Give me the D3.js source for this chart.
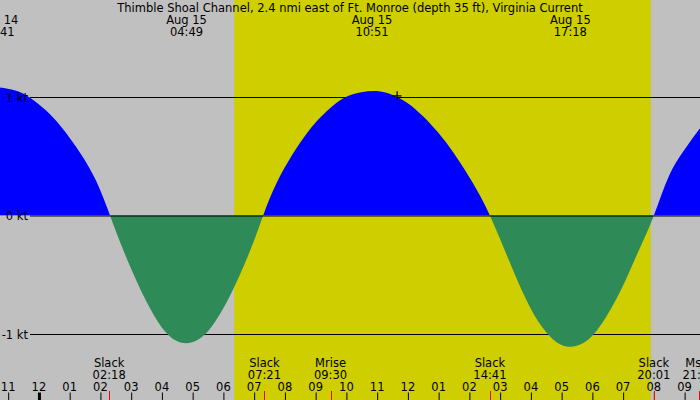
<!DOCTYPE html>
<html><head><meta charset="utf-8">
<script src="https://cdn.jsdelivr.net/npm/d3@7"></script>
<style>html,body{margin:0;padding:0;background:#c0c0c0;}svg{display:block;}</style>
</head><body>
<svg id="c" width="700" height="400"></svg>
<script>
const title = "Thimble Shoal Channel, 2.4 nmi east of Ft. Monroe (depth 35 ft), Virginia Current";
const domainTimes = ["2024-08-14 22:45", "2024-08-15 21:31"];
const sunTimes = ["2024-08-15 06:22", "2024-08-15 19:55"];

const curveTimes = [
  "2024-08-14 22:00","2024-08-14 22:30","2024-08-14 23:00","2024-08-14 23:30",
  "2024-08-15 00:00","2024-08-15 00:30","2024-08-15 01:00","2024-08-15 01:30",
  "2024-08-15 02:00","2024-08-15 02:30","2024-08-15 03:00","2024-08-15 03:30",
  "2024-08-15 04:00","2024-08-15 04:30","2024-08-15 05:00","2024-08-15 05:30",
  "2024-08-15 06:00","2024-08-15 06:30","2024-08-15 07:00","2024-08-15 07:30",
  "2024-08-15 08:00","2024-08-15 08:30","2024-08-15 09:00","2024-08-15 09:30",
  "2024-08-15 10:00","2024-08-15 10:30","2024-08-15 11:00","2024-08-15 11:30",
  "2024-08-15 12:00","2024-08-15 12:30","2024-08-15 13:00","2024-08-15 13:30",
  "2024-08-15 14:00","2024-08-15 14:30","2024-08-15 15:00","2024-08-15 15:30",
  "2024-08-15 16:00","2024-08-15 16:30","2024-08-15 17:00","2024-08-15 17:30",
  "2024-08-15 18:00","2024-08-15 18:30","2024-08-15 19:00","2024-08-15 19:30",
  "2024-08-15 20:00","2024-08-15 20:30","2024-08-15 21:00","2024-08-15 21:30",
  "2024-08-15 22:00"];
const curveKnots = [
  1.04, 1.08, 1.07, 1.03,
  0.94, 0.82, 0.66, 0.47,
  0.22, -0.12, -0.44, -0.72,
  -0.94, -1.06, -1.07, -0.98,
  -0.79, -0.53, -0.22, 0.13,
  0.40, 0.61, 0.78, 0.91,
  1.00, 1.04, 1.05, 1.02,
  0.95, 0.84, 0.70, 0.53,
  0.33, 0.10, -0.19, -0.50,
  -0.78, -0.98, -1.09, -1.10,
  -1.02, -0.84, -0.60, -0.31,
  -0.01, 0.33, 0.55, 0.73,
  0.87];

const maxTimes = ["2024-08-14 22:41","2024-08-15 04:49","2024-08-15 10:51","2024-08-15 17:18"];
const maxDateLabels = ["Aug 14","Aug 15","Aug 15","Aug 15"];
const maxTimeLabels = ["22:41","04:49","10:51","17:18"];

const eventTimes = ["2024-08-15 02:18","2024-08-15 07:21","2024-08-15 09:30","2024-08-15 14:41","2024-08-15 20:01","2024-08-15 21:29"];
const eventNames = ["Slack","Slack","Mrise","Slack","Slack","Mset"];
const eventTimeLabels = ["02:18","07:21","09:30","14:41","20:01","21:29"];

const levelValues = [1, 0, -1];
const levelLabels = ["1 kt", "0 kt", "-1 kt"];

const markerTime = "2024-08-15 11:39";
const markerKnots = 1.01;

const parse = d3.timeParse("%Y-%m-%d %H:%M");
const W = 700, H = 400;
const FONT = "DejaVu Sans";
const FS = 11.5;
const svg = d3.select("#c");

const x = d3.scaleTime().domain(domainTimes.map(parse)).range([0, W]);
const y = d3.scaleLinear().domain([-1, 1]).range([334, 97]);

const data = curveTimes.map((t, i) => ({t: parse(t), v: curveKnots[i]}));

// background
svg.append("rect").attr("width", W).attr("height", H).attr("fill", "#c0c0c0");
const [sr, ss] = sunTimes.map(parse);
svg.append("rect").attr("x", x(sr)).attr("y", 0).attr("width", x(ss) - x(sr)).attr("height", H).attr("fill", "#cece00");

// level lines (under fill for +1/-1)
levelValues.forEach((v) => {
  if (v !== 0) svg.append("line").attr("x1", 30).attr("x2", W).attr("y1", y(v) + 0.5).attr("y2", y(v) + 0.5)
    .attr("stroke", "#000").attr("stroke-width", 1);
});

// clips
const defs = svg.append("defs");
defs.append("clipPath").attr("id", "pos").append("rect").attr("x", 0).attr("y", 0).attr("width", W).attr("height", y(0));
defs.append("clipPath").attr("id", "neg").append("rect").attr("x", 0).attr("y", y(0)).attr("width", W).attr("height", H - y(0));

const area = d3.area().x(d => x(d.t)).y0(y(0)).y1(d => y(d.v)).curve(d3.curveNatural);
svg.append("path").datum(data).attr("d", area).attr("fill", "#0000ff").attr("clip-path", "url(#pos)");
svg.append("path").datum(data).attr("d", area).attr("fill", "#2e8b57").attr("clip-path", "url(#neg)");

// zero line
svg.append("line").attr("x1", 30).attr("x2", W).attr("y1", y(0) + 0.5).attr("y2", y(0) + 0.5)
  .attr("stroke", "#000").attr("stroke-width", 1);

// level labels
levelValues.forEach((v, i) => {
  svg.append("text").attr("x", 28).attr("y", y(v) + 4.5).attr("text-anchor", "end")
    .attr("font-family", FONT).attr("font-size", FS).attr("fill", "#000").text(levelLabels[i]);
});

// marker
const mx = x(parse(markerTime)), my = y(markerKnots);
svg.append("path").attr("d", `M${mx - 4},${my}H${mx + 5}M${mx + 0.5},${my - 4.5}V${my + 4.5}`)
  .attr("stroke", "#000").attr("stroke-width", 1.2).attr("fill", "none");

// title
svg.append("text").attr("x", W / 2).attr("y", 12).attr("text-anchor", "middle")
  .attr("font-family", FONT).attr("font-size", FS).attr("fill", "#000").text(title);

// max labels
maxTimes.forEach((t, i) => {
  const px = x(parse(t));
  svg.append("text").attr("x", px).attr("y", 24).attr("text-anchor", "middle")
    .attr("font-family", FONT).attr("font-size", FS).attr("fill", "#000").text(maxDateLabels[i]);
  svg.append("text").attr("x", px).attr("y", 36).attr("text-anchor", "middle")
    .attr("font-family", FONT).attr("font-size", FS).attr("fill", "#000").text(maxTimeLabels[i]);
});

// hour axis
const hours = d3.timeHour.every(1).range(...domainTimes.map(parse));
const axis = d3.axisBottom(x).tickValues(hours).tickFormat(d3.timeFormat("%I")).tickSize(0).tickPadding(0);
const gAx = svg.append("g").attr("transform", "translate(0,391)").call(axis);
gAx.select(".domain").remove();
gAx.selectAll("text").attr("font-family", FONT).attr("font-size", FS).attr("fill", "#000").attr("dy", null).attr("y", 0);
gAx.selectAll(".tick").append("line").attr("x1", 0.5).attr("x2", 0.5).attr("y1", 1.5).attr("y2", 9)
  .attr("stroke", "#000").attr("stroke-width", d => d.getHours() === 0 ? 3 : 1);

// events
eventTimes.forEach((t, i) => {
  const px = x(parse(t));
  svg.append("text").attr("x", px).attr("y", 367).attr("text-anchor", "middle")
    .attr("font-family", FONT).attr("font-size", FS).attr("fill", "#000").text(eventNames[i]);
  svg.append("text").attr("x", px).attr("y", 379).attr("text-anchor", "middle")
    .attr("font-family", FONT).attr("font-size", FS).attr("fill", "#000").text(eventTimeLabels[i]);
  svg.append("line").attr("x1", Math.round(px) + 0.5).attr("x2", Math.round(px) + 0.5).attr("y1", 391).attr("y2", 400)
    .attr("stroke", "#ff0000").attr("stroke-width", 1);
});
</script>
</body></html>
